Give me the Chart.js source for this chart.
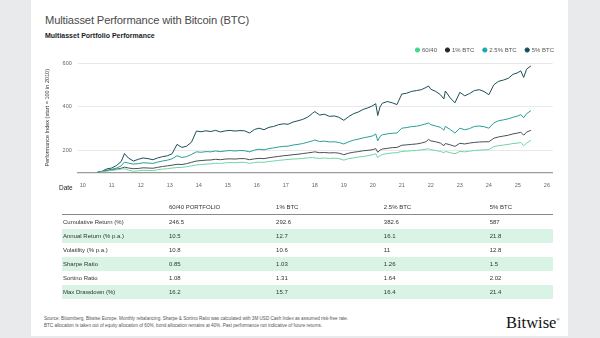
<!DOCTYPE html>
<html>
<head>
<meta charset="utf-8">
<script src="https://cdn.jsdelivr.net/npm/chart.js@4.4.1/dist/chart.umd.min.js"></script>
<style>
    html, body { margin: 0; padding: 0; }
    body {
        width: 600px; height: 338px; position: relative; overflow: hidden;
        background: #e9eaec; font-family: "Liberation Sans", Arial, sans-serif; color: #333;
    }
    #karte { position: absolute; left: 31px; top: 0; width: 537px; height: 336px; background: #fff; }
    #titel { position: absolute; left: 45px; top: 13px; font-size: 11.2px; line-height: 14px; color: #4a4a4a; letter-spacing: -0.15px; }
    #untertitel { position: absolute; left: 45px; top: 31.5px; font-size: 7px; line-height: 8px; font-weight: bold; color: #1c1c1c; }
    #diagramm { position: absolute; left: 38px; top: 38px; }
    #datum { position: absolute; left: 59px; top: 183.5px; font-size: 6.5px; line-height: 8px; color: #222; }
    table { position: absolute; left: 62px; top: 199px; width: 491px; border-collapse: collapse; font-size: 6px; color: #333; }
    th { font-weight: normal; text-align: left; height: 15px; padding: 0 0 0 1px; border-bottom: 1.2px solid #8a8a8a; }
    td { height: 14px; padding: 0 0 0 1px; }
    tr.gruen td { background: #d9f3e4; }
    #quelle { position: absolute; left: 44px; top: 316px; font-size: 4.6px; line-height: 6.5px; color: #555; }
    #logo { position: absolute; left: 506px; top: 309px; font-family: "Liberation Serif", serif; font-size: 16.5px; line-height: 22px; color: #111; }
    #logo sup { font-size: 4px; }
</style>
</head>
<body>
<div id="karte"></div>
<div id="titel">Multiasset Performance with Bitcoin (BTC)</div>
<div id="untertitel">Multiasset Portfolio Performance</div>
<canvas id="diagramm" width="522" height="165"></canvas>
<div id="datum">Date</div>
<table id="kennzahlen"></table>
<div id="quelle">Source: Bloomberg, Bitwise Europe. Monthly rebalancing. Sharpe &amp; Sortino Ratio was calculated with 3M USD Cash Index as assumed risk-free rate.<br>BTC allocation is taken out of equity allocation of 60%, bond allocation remains at 40%. Past performance not indicative of future returns.</div>
<div id="logo">Bitwise<sup>®</sup></div>

<script>
// Zeitachse (Jahr als Dezimalzahl, 10 = 2010)
const jahre = [10.5, 10.67, 10.83, 11.0, 11.17, 11.33, 11.44, 11.58, 11.75, 11.92,
    12.08, 12.25, 12.42, 12.58, 12.75, 12.92, 13.08, 13.25, 13.42, 13.58,
    13.75, 13.92, 14.08, 14.25, 14.42, 14.58, 14.75, 14.92, 15.08, 15.25,
    15.42, 15.58, 15.75, 15.92, 16.08, 16.25, 16.42, 16.58, 16.75, 16.92,
    17.08, 17.25, 17.42, 17.58, 17.75, 17.92, 18.0, 18.17, 18.33, 18.5,
    18.67, 18.83, 19.0, 19.17, 19.33, 19.5, 19.67, 19.83, 20.0, 20.1,
    20.17, 20.25, 20.33, 20.5, 20.67, 20.83, 21.0, 21.17, 21.33, 21.5,
    21.67, 21.83, 21.92, 22.0, 22.17, 22.33, 22.45, 22.5, 22.67, 22.83,
    23.0, 23.17, 23.33, 23.5, 23.67, 23.83, 24.0, 24.17, 24.33, 24.5,
    24.67, 24.83, 25.0, 25.1, 25.2, 25.3, 25.45];

const portfolio6040 = [100, 103, 106, 109, 112, 115, 117, 110, 105, 107,
    110, 109, 108, 112, 115, 117, 120, 122, 123, 126,
    130, 134, 136, 138, 139, 142, 141, 144, 145, 144,
    146, 146, 141, 145, 147, 146, 150, 152, 155, 157,
    159, 161, 162, 164, 166, 168, 166, 164, 166, 164,
    165, 163, 156, 163, 166, 170, 173, 176, 181, 185,
    168, 177, 182, 186, 189, 190, 196, 197, 199, 200,
    203, 206, 208, 204, 200, 196, 190, 196, 190, 185,
    196, 194, 197, 200, 202, 203, 204, 218, 222, 225,
    228, 232, 234, 237, 222, 234, 246.5];

const btc1 = [100, 104, 108, 111, 115, 119, 124, 120, 117, 118,
    121, 120, 119, 123, 127, 130, 133, 137, 136, 140,
    146, 152, 154, 156, 157, 160, 158, 161, 162, 161,
    163, 163, 158, 162, 164, 163, 167, 170, 173, 176,
    178, 181, 183, 186, 189, 192, 194, 190, 191, 189,
    190, 188, 181, 188, 192, 195, 199, 201, 204, 209,
    192, 202, 207, 210, 213, 214, 224, 226, 228, 230,
    234, 240, 251, 244, 240, 234, 222, 232, 226, 219,
    233, 230, 234, 237, 239, 240, 240, 256, 262, 266,
    270, 276, 280, 284, 270, 284, 292.6];

const btc25 = [100, 104, 110, 114, 120, 130, 147, 142, 138, 140,
    144, 143, 141, 147, 152, 156, 162, 176, 168, 172,
    182, 194, 192, 195, 194, 198, 195, 198, 200, 198,
    200, 199, 194, 202, 206, 203, 209, 212, 216, 219,
    220, 225, 228, 232, 238, 244, 248, 241, 243, 239,
    240, 237, 230, 240, 247, 252, 258, 262, 267, 276,
    244, 264, 272, 276, 279, 280, 302, 305, 309, 311,
    316, 322, 326, 318, 312, 306, 293, 310, 296, 280,
    302, 295, 300, 310, 312, 309, 302, 326, 336, 340,
    345, 352, 358, 364, 350, 368, 382.6];

const btc5 = [100, 105, 116, 120, 132, 150, 186, 165, 152, 160,
    166, 163, 158, 166, 172, 176, 185, 228, 214, 220,
    238, 289, 286, 290, 287, 292, 285, 290, 292, 289,
    291, 290, 280, 296, 302, 295, 306, 310, 318, 322,
    320, 330, 336, 342, 352, 370, 378, 362, 366, 356,
    358, 352, 338, 355, 368, 376, 388, 395, 405, 414,
    360, 400, 416, 424, 418, 410, 458, 462, 470, 474,
    478, 488, 495, 480, 470, 455, 436, 472, 440, 418,
    466, 450, 460, 474, 478, 470, 455, 500, 516, 522,
    530, 548, 556, 564, 534, 572, 587];

const jahrTicks = [10, 11, 12, 13, 14, 15, 16, 17, 18, 19, 20, 21, 22, 23, 24, 25, 26];
const indexTicks = [200, 400, 600];

// Kennzahlentabelle
const portfolios = ["60/40 PORTFOLIO", "1% BTC", "2.5% BTC", "5% BTC"];
const kennzahlNamen = ["Cumulative Return (%)", "Annual Return (% p.a.)", "Volatility  (% p.a.)",
    "Sharpe Ratio", "Sortino Ratio", "Max Drawdown (%)"];
const kumulierteRendite = [246.5, 292.6, 382.6, 587];
const jahresRendite = [10.5, 12.7, 16.1, 21.8];
const volatilitaet = [10.8, 10.6, 11, 12.8];
const sharpeRatio = [0.85, 1.03, 1.26, 1.5];
const sortinoRatio = [1.08, 1.31, 1.64, 2.02];
const maxDrawdown = [16.2, 15.7, 16.4, 21.4];

const tabelle = document.getElementById("kennzahlen");
const spaltenBreiten = [106, 107, 108, 106, 64];
let kopf = "<tr>";
["", ...portfolios].forEach((name, i) => {
    kopf += '<th style="width:' + spaltenBreiten[i] + 'px">' + name + "</th>";
});
kopf += "</tr>";
const zeilenWerte = [kumulierteRendite, jahresRendite, volatilitaet, sharpeRatio, sortinoRatio, maxDrawdown];
let koerper = "";
zeilenWerte.forEach((werte, i) => {
    koerper += '<tr class="' + (i % 2 === 1 ? "gruen" : "") + '"><td>' + kennzahlNamen[i] + "</td>";
    werte.forEach((w) => { koerper += "<td>" + String(w) + "</td>"; });
    koerper += "</tr>";
});
tabelle.innerHTML = kopf + koerper;

function punkte(werte) {
    return werte.map((w, i) => ({ x: jahre[i], y: w }));
}

function linie(label, werte, linienFarbe, legendenFarbe) {
    return {
        label: label,
        data: punkte(werte),
        borderColor: linienFarbe,
        backgroundColor: legendenFarbe,
        borderWidth: 1,
        pointRadius: 0,
        tension: 0,
    };
}

// Legende bis an den rechten Rand der Achse schieben
const legendeRechts = {
    id: "legendeRechts",
    afterLayout(chart) {
        chart.legend.left += 8;
        chart.legend.right += 8;
    },
};

new Chart(document.getElementById("diagramm"), {
    type: "line",
    data: {
        datasets: [
            linie("60/40", portfolio6040, "#6fd5a5", "#3ed88c"),
            linie("1% BTC", btc1, "#4b5056", "#23272d"),
            linie("2.5% BTC", btc25, "#2a9e98", "#17a7a6"),
            linie("5% BTC", btc5, "#1b4f58", "#0f4d5c"),
        ],
    },
    plugins: [legendeRechts],
    options: {
        responsive: false,
        animation: false,
        layout: { padding: { left: 4, right: 5, top: 0, bottom: 4 } },
        plugins: {
            legend: {
                position: "top",
                align: "end",
                labels: {
                    usePointStyle: true,
                    pointStyle: "circle",
                    boxWidth: 3,
                    boxHeight: 3,
                    padding: 9,
                    color: "#555",
                    font: { size: 6, family: "Liberation Sans" },
                    generateLabels: (chart) =>
                        Chart.defaults.plugins.legend.labels.generateLabels(chart).map((l) => {
                            l.strokeStyle = l.fillStyle;
                            return l;
                        }),
                },
            },
            tooltip: { enabled: false },
        },
        scales: {
            x: {
                type: "linear",
                min: 9.83,
                max: 26.2,
                afterBuildTicks: (s) => { s.ticks = jahrTicks.map((v) => ({ value: v })); },
                ticks: {
                    callback: (v) => String(v),
                    color: "#666",
                    font: { size: 5.5, family: "Liberation Sans" },
                    padding: 10,
                    maxRotation: 0,
                    autoSkip: false,
                },
                grid: { display: false, drawTicks: false },
                border: { color: "#9b9b9b", width: 1.2 },
            },
            y: {
                min: 100,
                max: 600,
                afterBuildTicks: (s) => { s.ticks = indexTicks.map((v) => ({ value: v })); },
                ticks: {
                    color: "#666",
                    font: { size: 5.5, family: "Liberation Sans" },
                    padding: 6,
                },
                grid: { color: "#e8e8e8", drawTicks: false },
                border: { display: false },
                title: {
                    display: true,
                    text: "Performance Index (start = 100 in 2010)",
                    color: "#333",
                    font: { size: 5.5, family: "Liberation Sans" },
                    padding: { top: 2, bottom: 6 },
                },
            },
        },
    },
});
</script>
</body>
</html>
